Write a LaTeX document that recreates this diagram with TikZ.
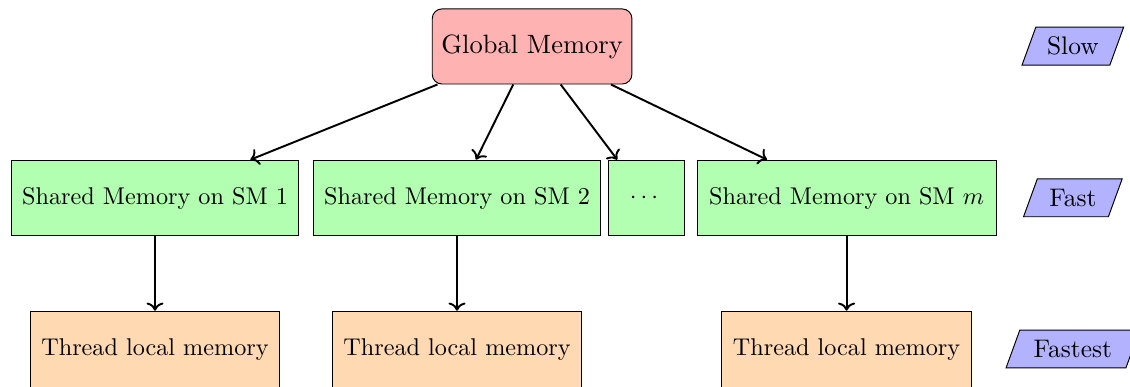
\documentclass[tikz,border=0pt]{standalone}
\usepackage{amsmath,amssymb}
\usetikzlibrary{shapes.geometric,arrows.meta,positioning}

\begin{document}
\begin{tikzpicture}[
  gmem/.style={
    rectangle, draw=black, fill=red!30,
    minimum width=2.9cm, minimum height=1.09cm,
    font=\fontsize{10.95}{13}\selectfont, rounded corners=4pt
  },
  smem/.style={
    rectangle, draw=black, fill=green!30,
    minimum height=1.1cm
  },
  tmem/.style={
    rectangle, draw=black, fill=orange!30,
    minimum width=3.62cm, minimum height=1.12cm
  },
  speed/.style={
    trapezium, trapezium left angle=70, trapezium right angle=110,
    draw=black, fill=blue!30, minimum height=0.55cm,
    font=\fontsize{10.5}{12.6}\selectfont
  },
  link/.style={->, thick}
]
\useasboundingbox (0,0) rectangle (16.41,-5.61);

% -- Global memory --
\node[gmem] (gm) at (7.727,-0.675) {Global Memory};

% -- Shared memory per SM --
\node[smem, minimum width=4.18cm] (sm1)    at ( 2.251,-2.876) {Shared Memory on SM 1};
\node[smem, minimum width=4.18cm] (sm2)    at ( 6.637,-2.876) {Shared Memory on SM 2};
\node[smem, minimum width=1.1cm]  (smdots) at ( 9.383,-2.876) {$\cdots$};
\node[smem, minimum width=4.34cm] (smm)    at (12.294,-2.876) {Shared Memory on SM $m$};

% -- Thread local memory --
\node[tmem] (tl1) at ( 2.251,-5.079) {Thread local memory};
\node[tmem] (tl2) at ( 6.637,-5.079) {Thread local memory};
\node[tmem] (tl3) at (12.294,-5.079) {Thread local memory};

% -- Speed labels --
\node[speed] (slow)    at (15.58,-0.670) {Slow};
\node[speed] (fast)    at (15.58,-2.873) {Fast};
\node[speed] (fastest) at (15.58,-5.069) {Fastest};

% -- Connections --
\draw[link] (gm) -- (sm1);
\draw[link] (gm) -- (sm2);
\draw[link] (gm) -- (smdots);
\draw[link] (gm) -- (smm);

\draw[link] (sm1) -- (tl1);
\draw[link] (sm2) -- (tl2);
\draw[link] (smm) -- (tl3);

\end{tikzpicture}
\end{document}
